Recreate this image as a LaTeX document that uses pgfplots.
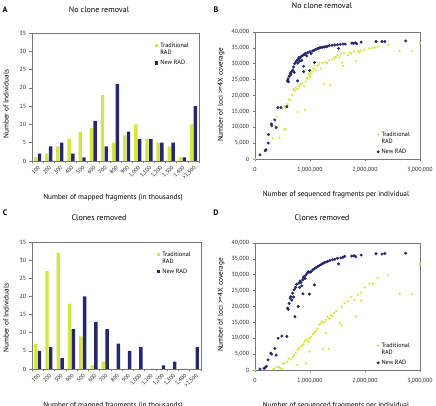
\documentclass[border=0pt]{standalone}
\usepackage{fontspec}
\setmainfont{PT Sans}
\usepackage{pgfplots}
\pgfplotsset{compat=1.18}
\definecolor{trad}{RGB}{213,228,70}
\definecolor{newrad}{RGB}{38,40,110}
\definecolor{axgray}{RGB}{120,120,120}
\pgfplotsset{
  base/.style={scale only axis, anchor=south west,
    axis line style={axgray, line width=0.6pt},
    tick style={axgray, line width=0.5pt}, tick align=outside, major tick length=2.5pt,
    xtick pos=lower, ytick pos=left,
    /pgf/number format/assume math mode=true,
    tick label style={font=\fontsize{5.9}{7}\selectfont, text=black!85},
    legend style={draw=none, fill=none, font=\fontsize{6.2}{7.2}\selectfont, row sep=7pt},
    legend cell align=left},
  barax/.style={base, ymin=0, ymax=35, ytick={0,5,...,35},
    xmin=-0.5, xmax=14.5, xtick={0,...,14},
    xticklabels={100,200,300,400,500,600,700,800,900,{1,000},{1,100},{1,200},{1,300},{1,400},{>1,500}},
    major x tick style={draw=none}, minor xtick={-0.5,0.5,...,14.5}, minor tick length=2.5pt,
    minor x tick style={axgray, line width=0.5pt},
    x tick label style={rotate=45, anchor=north east, inner sep=1pt, font=\fontsize{5.6}{6.5}\selectfont},
    ybar=0.4pt, bar width=3.4pt,
    legend style={at={(0.97,0.96)}, anchor=north east},
    legend image code/.code={\fill[##1] (0pt,-1.7pt) rectangle (3.4pt,1.7pt);}},
  scax/.style={base, xmin=0, xmax=3000000, ymin=0, ymax=40000,
    xtick={0,1000000,2000000,3000000}, xticklabels={0,{1,000,000},{2,000,000},{3,000,000}},
    ytick={0,5000,10000,15000,20000,25000,30000,35000,40000},
    yticklabels={0,{5,000},{10,000},{15,000},{20,000},{25,000},{30,000},{35,000},{40,000}},
    scaled ticks=false,
    x tick label style={yshift=-2pt},
    legend style={at={(0.97,0.0)}, anchor=south east}},
  tradm/.style={only marks, mark=*, mark size=0.95pt, color=trad},
  newm/.style={only marks, mark=*, mark size=1.3pt, color=newrad}
}
\newcommand{\twol}{\begin{tabular}[t]{@{}l@{}}Traditional\\RAD\end{tabular}}
\begin{document}
\begin{tikzpicture}[x=1pt,y=1pt]
\useasboundingbox (0,0) rectangle (436,406);
% ---------------- A
\begin{axis}[barax, at={(32pt,245pt)}, width=167pt, height=128pt]
\addplot[fill=trad, draw=none] coordinates {(0,1)(1,2)(2,4)(3,6)(4,8)(5,9)(6,18)(7,5)(8,7)(9,10)(10,6)(11,5)(12,4)(13,1)(14,10)};
\addplot[fill=newrad, draw=none] coordinates {(0,2)(1,4)(2,5)(3,2)(4,1)(5,11)(6,4)(7,21)(8,8)(9,6)(10,6)(11,5)(12,5)(13,1)(14,15)};
\addlegendentry{\twol}
\addlegendentry{New RAD}
\end{axis}
% ---------------- C
\begin{axis}[barax, at={(32pt,37pt)}, width=169pt, height=127pt]
\addplot[fill=trad, draw=none] coordinates {(0,7)(1,27)(2,32)(3,18)(4,9)(5,1)(6,2)(7,0)(8,0)(9,0)(10,0)(11,0)(12,0)(13,0)(14,0)};
\addplot[fill=newrad, draw=none] coordinates {(0,5)(1,6)(2,3)(3,11)(4,20)(5,13)(6,11)(7,7)(8,5)(9,6)(10,0)(11,1)(12,2)(13,0)(14,6)};
\addlegendentry{\twol}
\addlegendentry{New RAD}
\end{axis}
% ---------------- B
\begin{axis}[scax, at={(255pt,247pt)}, width=165pt, height=127pt]
\addplot[tradm] coordinates {
(0,0)(320000,6500)(366000,10500)(396000,13400)(445000,6700)(530000,9200)(561000,9500)
(506000,15900)(530000,16600)(560000,16000)(591000,17300)(610000,18800)(640000,18500)
(677000,20100)(700000,21900)(720000,21500)(744000,22300)(774000,14800)(780000,22000)
(800000,23000)(830000,23500)(860000,24000)(896000,22900)(910000,15500)(927000,24400)
(940000,25500)(957000,25300)(975000,26900)(994000,26300)(1000000,25800)(1010000,27000)
(1040000,27500)(1060000,28500)(1080000,29400)(1100000,28000)(1140000,29400)(1170000,30000)
(1200000,28500)(1230000,30300)(1250000,23600)(1280000,30500)(1310000,30200)(1350000,31100)
(1370000,23300)(1400000,31400)(1440000,31900)(1470000,32200)(1500000,32700)(1530000,32000)
(1560000,33000)(1580000,30300)(1600000,29300)(1620000,33400)(1690000,32700)(1720000,33600)
(1750000,33200)(1800000,33800)(1840000,30900)(1880000,34000)(1900000,33500)(1930000,34200)
(1990000,34400)(2080000,34800)(2130000,35000)(2180000,35100)(2230000,35500)(2420000,36000)
(2630000,34000)(2850000,34000)(3000000,36500)};
\addplot[newm] coordinates {
(90000,1300)(185000,2600)(200000,2900)(240000,5000)(245000,7700)(300000,11000)(305000,10500)
(360000,12300)(385000,9900)(415000,16200)(470000,16200)(580000,16500)(590000,24600)
(600000,25200)(610000,24300)(620000,26000)(640000,27000)(650000,26500)(670000,27600)
(690000,28000)(700000,29000)(713000,27300)(720000,30000)(740000,30500)(760000,31000)
(774000,24600)(780000,30200)(790000,31500)(800000,32000)(810000,30800)(820000,31800)
(840000,32300)(850000,31000)(860000,32500)(884000,27500)(884000,29200)(890000,32800)
(900000,33000)(920000,33300)(940000,32500)(960000,33500)(994000,27900)(1000000,33800)
(1020000,33200)(1050000,34000)(1080000,30400)(1080000,34300)(1110000,34600)(1140000,34800)
(1170000,35000)(1200000,35100)(1230000,35200)(1260000,35300)(1290000,35400)(1320000,35500)
(1350000,35700)(1400000,35800)(1450000,35900)(1520000,34800)(1500000,36000)(1550000,36100)
(1600000,36200)(1640000,36200)(1760000,36500)(1790000,36400)(1820000,36600)(1850000,36300)
(1930000,36800)(2200000,37000)(2310000,37000)(2360000,37000)(2740000,37200)};
\addlegendentry{\twol}
\addlegendentry{New RAD}
\end{axis}
% ---------------- D
\begin{axis}[scax, at={(255pt,36pt)}, width=165pt, height=127pt]
\addplot[tradm] coordinates {
(0,0)(330000,200)(350000,400)(396000,1000)(440000,900)(470000,500)(500000,300)(506000,1900)
(540000,2200)(591000,2600)(610000,3600)(650000,3300)(683000,4000)(713000,4700)(740000,5500)
(774000,1600)(774000,6300)(800000,6800)(835000,7400)(860000,7800)(884000,8200)(900000,9000)
(927000,2100)(927000,9500)(957000,9800)(970000,9000)(988000,5800)(1000000,10000)
(1020000,10500)(1050000,11300)(1080000,11800)(1110000,12300)(1140000,13000)(1170000,14300)
(1200000,14800)(1230000,15300)(1240000,6600)(1260000,15000)(1290000,15800)(1290000,11600)
(1320000,16800)(1340000,6600)(1350000,16200)(1380000,17300)(1410000,17000)(1440000,17900)
(1480000,18500)(1540000,14700)(1580000,14000)(1580000,20000)(1630000,21000)(1690000,21600)
(1750000,23000)(1810000,22100)(1840000,16800)(1870000,23700)(1930000,24400)(1930000,21900)
(1990000,26000)(2080000,27200)(2140000,27200)(2230000,29000)(2420000,29800)(2630000,24000)
(2850000,24000)(3000000,33400)};
\addplot[newm] coordinates {
(90000,300)(165000,500)(185000,800)(207000,1150)(238000,3200)(287000,5300)(305000,5000)
(360000,6800)(384000,4700)(421000,10000)(488000,10700)(580000,10600)(591000,19500)
(604000,19100)(620000,21000)(640000,22600)(650000,23100)(670000,22000)(683000,24200)
(700000,23000)(713000,25300)(726000,16800)(740000,26000)(760000,27000)(787000,20000)
(800000,27400)(810000,26000)(820000,28000)(835000,27600)(850000,26500)(866000,28400)
(872000,24000)(880000,29200)(896000,29500)(910000,28800)(930000,30000)(950000,30500)
(970000,31000)(988000,23900)(1000000,30800)(1020000,31000)(1050000,31500)(1080000,26800)
(1080000,31900)(1110000,32200)(1140000,32600)(1170000,32900)(1200000,33200)(1230000,33500)
(1260000,33800)(1290000,34000)(1320000,34200)(1360000,34500)(1410000,34700)(1450000,34900)
(1500000,35200)(1520000,33400)(1560000,35300)(1600000,35500)(1630000,35800)(1760000,35900)
(1800000,36000)(1830000,35700)(1930000,36200)(2200000,36600)(2310000,36500)(2360000,36700)
(2740000,36800)};
\addlegendentry{\twol}
\addlegendentry{New RAD}
\end{axis}
% ---------------- text
\begin{scope}[every node/.style={inner sep=0pt}]
\node[font=\bfseries\fontsize{8}{9}\selectfont] at (5,396) {A};
\node[font=\bfseries\fontsize{8}{9}\selectfont] at (216,396) {B};
\node[font=\bfseries\fontsize{8}{9}\selectfont] at (5,193) {C};
\node[font=\bfseries\fontsize{8}{9}\selectfont] at (216,193) {D};
\node[font=\fontsize{8}{9}\selectfont] at (99,396) {No clone removal};
\node[font=\fontsize{8}{9}\selectfont] at (322,400) {No clone removal};
\node[font=\fontsize{8}{9}\selectfont] at (99,188) {Clones removed};
\node[font=\fontsize{8}{9}\selectfont] at (322,188) {Clones removed};
\node[font=\fontsize{7.3}{8}\selectfont, rotate=90] at (6,302) {Number of Individuals};
\node[font=\fontsize{7.3}{8}\selectfont, rotate=90] at (6,88) {Number of Individuals};
\node[font=\fontsize{7.3}{8}\selectfont, rotate=90] at (221,311) {Number of loci >=4X coverage};
\node[font=\fontsize{7.3}{8}\selectfont, rotate=90] at (221,101) {Number of loci >=4X coverage};
\node[font=\fontsize{7.3}{8}\selectfont] at (113,208) {Number of mapped fragments (in thousands)};
\node[font=\fontsize{7.3}{8}\selectfont] at (336,211) {Number of sequenced fragments per individual};
\node[font=\fontsize{7.3}{8}\selectfont] at (113,0.5) {Number of mapped fragments (in thousands)};
\node[font=\fontsize{7.3}{8}\selectfont] at (336,0.5) {Number of sequenced fragments per individual};
\end{scope}
\end{tikzpicture}
\end{document}
